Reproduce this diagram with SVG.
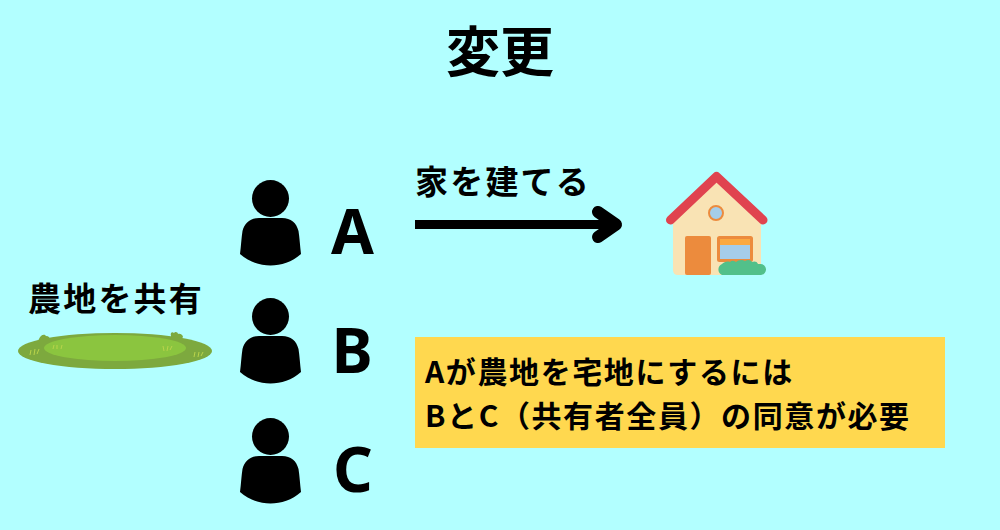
<svg xmlns="http://www.w3.org/2000/svg" width="1000" height="530" viewBox="0 0 1000 530">
<style>
text{font-family:"Noto Sans CJK JP","Noto Sans",sans-serif;fill:#000;font-weight:700}
.l{font-family:"Noto Sans","Open Sans",sans-serif;font-size:62px;font-weight:700}
.j{font-size:33px;letter-spacing:2.2px;font-weight:700}
.n{font-size:30px;letter-spacing:1.6px;font-weight:700}
</style>
<defs>
<g id="person" fill="#000">
<circle cx="30.500" cy="18.500" r="18.500"/>
<path d="M0 74C1 66 1.500 57 2.500 51C4.500 43 10 38 19 38L42 38C51 38 56.500 43 58.500 51C59.500 57 60 66 61 74C52 82 41 85.500 30.500 85.500C20 85.500 9 82 0 74Z"/>
</g>
</defs>
<rect width="1000" height="530" fill="#b2ffff"/>
<text id="title" x="500" y="72" text-anchor="middle" font-size="54">変更</text>
<g id="person-a"><use href="#person" x="240" y="180"/><text class="l" x="352.500" y="254" text-anchor="middle">A</text></g>
<g id="person-b"><use href="#person" x="240" y="298"/><text class="l" x="352" y="373" text-anchor="middle">B</text></g>
<g id="person-c"><use href="#person" x="240" y="418"/><text class="l" x="353" y="492" text-anchor="middle">C</text></g>
<g id="connectors">
<path d="M415 224.500H614" fill="none" stroke="#000" stroke-width="9"/>
<path d="M598 212L616 224.500L598 237" fill="none" stroke="#000" stroke-width="12" stroke-linecap="round" stroke-linejoin="round"/>
</g>
<text id="edge-label" class="j" x="415" y="194">家を建てる</text>
<g id="farmland">
<text class="j" x="28" y="311">農地を共有</text>
<path d="M39 339c1-3 5-6 7-3 3 0 4 2 4 4l-12 3zM171 336c-1-3 1-5 3-3 1-2 4-1 4 1 2-1 5 1 5 3l-3 4-9-2z" fill="#7da93e"/>
<ellipse cx="115" cy="351" rx="97" ry="18" fill="#7da93e"/>
<ellipse cx="115" cy="348" rx="71" ry="13" fill="#8bc53f"/>
<path d="M30 355l1-5M34 355l1-6M37 354l2-5M53 349l1-4M57 349l0-4M61 349l1-4M164 351l-1-5M167 351l1-5M170 350l2-4M194 357l1-5M198 357l1-5M201 356l2-4" stroke="#b9d44a" stroke-width="1" fill="none"/>
</g>
<g id="house">
<path d="M673 221L716 181L761 221V270Q761 275 756 275H678Q673 275 673 270Z" fill="#f9e3b4"/>
<path d="M670.500 220L716.500 176.500L763 220" fill="none" stroke="#e0434f" stroke-width="9" stroke-linecap="round" stroke-linejoin="round"/>
<circle cx="716" cy="213" r="7" fill="#a5cdea" stroke="#ec8b3d" stroke-width="2"/>
<rect x="685" y="236" width="26" height="39" rx="2" fill="#ec8b3d"/>
<rect x="718.500" y="237.500" width="33" height="23" rx="1" fill="#a5cdea" stroke="#ec8b3d" stroke-width="3"/>
<rect x="720" y="239" width="30" height="6" fill="#fba941"/>
<path d="M722 275a6 6 0 0 1 0-11c2-2 5-3 8-2 2-2 4-1 6 0 2-2 6-3 9-1 3-2 6-1 7 1 2-1 5-1 6 2h2a5.500 5.500 0 0 1 1 11z" fill="#52c08a"/>
</g>
<g id="note">
<rect x="415" y="337" width="530" height="111" fill="#ffd84f"/>
<text class="n" x="425" y="383">Aが農地を宅地にするには</text>
<text class="n" x="425" y="427">BとC（共有者全員）の同意が必要</text>
</g>
</svg>
